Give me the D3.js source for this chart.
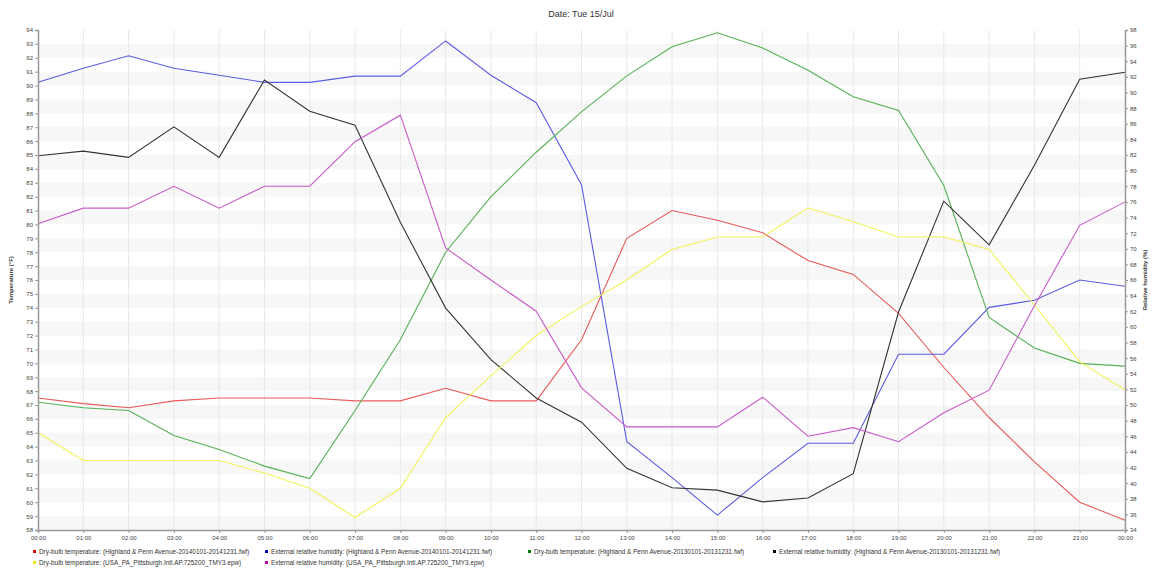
<!DOCTYPE html>
<html lang="en">
<head>
<meta charset="UTF-8">
<title>Date: Tue 15/Jul</title>
<script src="https://cdn.jsdelivr.net/npm/d3@7"></script>
<style>
  body { margin: 0; background: #fff; }
  svg text { font-family: "Liberation Sans", Arial, sans-serif; }
  .axis path, .axis line { stroke: #999; }
  .axis text { fill: #444; font-size: 6px; }
</style>
</head>
<body>
<script>
// hours of the day, 00:00 .. 00:00 next day
var hours = ['00:00','01:00','02:00','03:00','04:00','05:00','06:00','07:00','08:00','09:00','10:00','11:00',
             '12:00','13:00','14:00','15:00','16:00','17:00','18:00','19:00','20:00','21:00','22:00','23:00','00:00'];

// dry-bulb temperatures (°F), left axis
var tempHP2014 = [67.5,67.1,66.8,67.3,67.5,67.5,67.5,67.3,67.3,68.2,67.3,67.3,71.7,79.0,81.0,80.3,79.4,77.4,76.4,73.6,69.7,66.1,62.9,60.0,58.7];
var tempHP2013 = [67.2,66.8,66.6,64.8,63.8,62.6,61.7,66.6,71.7,78.0,82.0,85.2,88.1,90.7,92.8,93.8,92.7,91.1,89.2,88.2,82.8,73.3,71.1,70.0,69.8];
var tempTMY3   = [65.0,63.0,63.0,63.0,63.0,62.1,61.0,58.9,61.0,66.1,69.1,72.0,74.1,76.0,78.2,79.1,79.1,81.2,80.2,79.1,79.1,78.2,74.2,70.1,68.1];

// external relative humidity (%), right axis
var rhHP2014 = [91.3,93.1,94.7,93.1,92.2,91.3,91.3,92.1,92.1,96.6,92.2,88.7,78.2,45.3,40.7,35.9,40.7,45.1,45.1,56.5,56.5,62.5,63.4,66.0,65.2];
var rhHP2013 = [81.9,82.5,81.7,85.6,81.7,91.6,87.6,85.8,73.4,62.4,55.8,50.9,47.8,41.9,39.4,39.1,37.6,38.1,41.2,61.9,76.1,70.5,80.7,91.7,92.6];
var rhTMY3   = [73.2,75.2,75.2,78.0,75.2,78.0,78.0,83.7,87.1,70.1,66.0,62.0,52.2,47.2,47.2,47.2,51.0,46.0,47.1,45.3,49.0,51.9,62.7,73.0,76.0];

var tempTicks = d3.range(58, 95, 1);
var rhTicks = d3.range(34, 99, 2);

var legendLabels = [
  'Dry-bulb temperature:  (Highland & Penn Avenue-20140101-20141231.fwf)',
  'External relative humidity:  (Highland & Penn Avenue-20140101-20141231.fwf)',
  'Dry-bulb temperature:  (Highland & Penn Avenue-20130101-20131231.fwf)',
  'External relative humidity:  (Highland & Penn Avenue-20130101-20131231.fwf)',
  'Dry-bulb temperature:  (USA_PA_Pittsburgh.Intl.AP.725200_TMY3.epw)',
  'External relative humidity:  (USA_PA_Pittsburgh.Intl.AP.725200_TMY3.epw)'
];

var w = 1153, h = 569;
var padL = 38, padR = 1125, padT = 30, padB = 530;

var series = [
  { values: tempHP2014, axis: 'l', color: '#e85a5a', mark: '#e00000' },
  { values: rhHP2014,   axis: 'r', color: '#5c5ce0', mark: '#0000c0' },
  { values: tempHP2013, axis: 'l', color: '#55b055', mark: '#008000' },
  { values: rhHP2013,   axis: 'r', color: '#333333', mark: '#000000' },
  { values: tempTMY3,   axis: 'l', color: '#f2f25a', mark: '#e8e800' },
  { values: rhTMY3,     axis: 'r', color: '#c85ac8', mark: '#b000b0' }
];

var svg = d3.select('body').append('svg')
  .attr('width', w)
  .attr('height', h);

var x = d3.scaleLinear().domain([0, hours.length - 1]).range([padL, padR]);
var yT = d3.scaleLinear().domain([58, 94]).range([padB, padT]);
var yH = d3.scaleLinear().domain([34, 98]).range([padB, padT]);

// alternating bands
svg.append('g').selectAll('rect')
  .data(d3.range(58, 94, 2))
  .enter().append('rect')
  .attr('x', padL)
  .attr('width', padR - padL)
  .attr('y', d => yT(d + 1))
  .attr('height', d => yT(d) - yT(d + 1))
  .attr('fill', '#f7f7f7');

// vertical grid
svg.append('g').selectAll('line')
  .data(d3.range(1, hours.length - 1))
  .enter().append('line')
  .attr('x1', d => x(d)).attr('x2', d => x(d))
  .attr('y1', padT).attr('y2', padB)
  .attr('stroke', '#e8e8e8');

// series lines
series.forEach(function(s) {
  var yy = s.axis == 'l' ? yT : yH;
  svg.append('path')
    .datum(s.values)
    .attr('fill', 'none')
    .attr('stroke', s.color)
    .attr('stroke-width', 1.1)
    .attr('d', d3.line().x((d, i) => x(i)).y(d => yy(d)));
});

// axes
svg.append('g')
  .attr('class', 'axis')
  .attr('transform', 'translate(' + padL + ',0)')
  .call(d3.axisLeft(yT).tickValues(tempTicks).tickSize(3).tickPadding(2).tickFormat(d3.format('d')));

svg.append('g')
  .attr('class', 'axis')
  .attr('transform', 'translate(' + padR + ',0)')
  .call(d3.axisRight(yH).tickValues(rhTicks).tickSize(3).tickPadding(2).tickFormat(d3.format('d')));

svg.append('g')
  .attr('class', 'axis')
  .attr('transform', 'translate(0,' + padB + ')')
  .call(d3.axisBottom(x).tickValues(d3.range(hours.length)).tickSize(3).tickPadding(3).tickFormat(i => hours[i]));

svg.selectAll('.axis .domain').attr('stroke', '#888').attr('stroke-width', 1.5);

// title
svg.append('text')
  .attr('x', 581).attr('y', 17)
  .attr('text-anchor', 'middle')
  .attr('font-size', '9px')
  .attr('fill', '#333')
  .text('Date: Tue 15/Jul');

// axis titles
svg.append('text')
  .attr('transform', 'translate(13,' + (padT + padB) / 2 + ') rotate(-90)')
  .attr('text-anchor', 'middle')
  .attr('font-size', '6px')
  .attr('font-weight', 'bold')
  .attr('fill', '#333')
  .text('Temperature (°F)');

svg.append('text')
  .attr('transform', 'translate(1147,' + (padT + padB) / 2 + ') rotate(-90)')
  .attr('text-anchor', 'middle')
  .attr('font-size', '6px')
  .attr('font-weight', 'bold')
  .attr('fill', '#333')
  .text('Relative humidity (%)');

// legend
var colX = [33, 265, 528, 773];
var leg = svg.append('g').selectAll('g')
  .data(series)
  .enter().append('g')
  .attr('transform', (d, i) => 'translate(' + colX[i % 4] + ',' + (554 + Math.floor(i / 4) * 11) + ')');

leg.append('rect')
  .attr('x', 0).attr('y', -4)
  .attr('width', 3).attr('height', 3)
  .attr('fill', d => d.mark);

leg.append('text')
  .attr('x', 6).attr('y', 0)
  .attr('font-size', '6.4px')
  .attr('fill', '#333')
  .text((d, i) => legendLabels[i]);
</script>
</body>
</html>
